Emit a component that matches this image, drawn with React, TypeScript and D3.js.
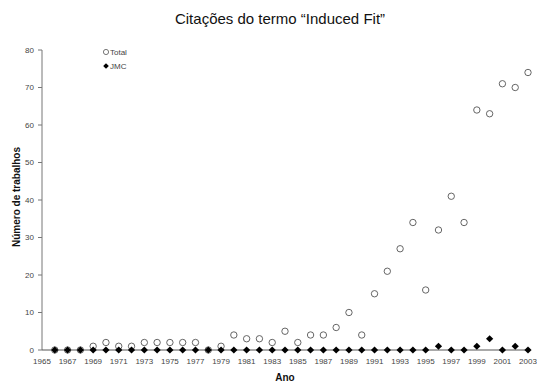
import React from 'react';
import * as d3 from 'd3';

const years = d3.range(1966, 2004);
const totalValues = [0, 0, 0, 1, 2, 1, 1, 2, 2, 2, 2, 2, 0, 1, 4, 3, 3, 2, 5, 2, 4, 4, 6, 10, 4, 15, 21, 27, 34, 16, 32, 41, 34, 64, 63, 71, 70, 74];
const jmcValues = [0, 0, 0, 0, 0, 0, 0, 0, 0, 0, 0, 0, 0, 0, 0, 0, 0, 0, 0, 0, 0, 0, 0, 0, 0, 0, 0, 0, 0, 0, 1, 0, 0, 1, 3, 0, 1, 0];
const xTickYears = d3.range(1965, 2004, 2);
const yTicks = [0, 10, 20, 30, 40, 50, 60, 70, 80];

const App = () => {
    const width = 537;
    const height = 382;
    const margin = {left: 42, right: 9, top: 50, bottom: 32};
    const font = 'Arial, "Liberation Sans", sans-serif';

    const x = d3.scaleLinear().domain([1965, 2003]).range([margin.left, width - margin.right]);
    const y = d3.scaleLinear().domain([0, 80]).range([height - margin.bottom, margin.top]);
    // losango: quadrado girado 45 graus
    const diamond = d3.symbol().type(d3.symbolSquare).size(26);

    return (
        <svg width={width} height={height} style={{position: 'absolute', left: 0, top: 0, background: '#fff'}}>
            <text x={280} y={24} textAnchor="middle" fontFamily={font} fontSize={15} fill="#111">
                Citações do termo “Induced Fit”
            </text>

            {/* eixo Y */}
            <line x1={x(1965)} x2={x(1965)} y1={y(80)} y2={y(0)} stroke="#777"/>
            {yTicks.map(t => (
                <g key={t}>
                    <line x1={x(1965) - 4} x2={x(1965)} y1={y(t)} y2={y(t)} stroke="#777"/>
                    <text x={x(1965) - 8} y={y(t)} dy="0.35em" textAnchor="end"
                          fontFamily={font} fontSize={8} fill="#444">{t}</text>
                </g>
            ))}

            {/* eixo X */}
            <line x1={x(1965)} x2={x(2003)} y1={y(0)} y2={y(0)} stroke="#555"/>
            {xTickYears.map(t => (
                <text key={t} x={x(t)} y={y(0) + 14} textAnchor="middle"
                      fontFamily={font} fontSize={8} fill="#444">{t}</text>
            ))}

            <text x={285} y={381} textAnchor="middle" fontFamily={font} fontSize={10}
                  fontWeight="bold" fill="#111">Ano</text>
            <text transform={`translate(20,${y(40) - 3}) rotate(-90)`} textAnchor="middle"
                  fontFamily={font} fontSize={10} fontWeight="bold" fill="#111">Número de trabalhos</text>

            {years.map((yr, i) => (
                <circle key={'t' + yr} cx={x(yr)} cy={y(totalValues[i])} r={3.2}
                        fill="#fff" stroke="#555" strokeWidth={0.9}/>
            ))}
            {years.map((yr, i) => (
                <path key={'j' + yr} d={diamond()}
                      transform={`translate(${x(yr)},${y(jmcValues[i])}) rotate(45)`} fill="#000"/>
            ))}

            {/* legenda */}
            <circle cx={106} cy={52} r={2.6} fill="#fff" stroke="#555" strokeWidth={0.8}/>
            <text x={110} y={52} dy="0.35em" fontFamily={font} fontSize={8} fill="#444">Total</text>
            <path d={d3.symbol().type(d3.symbolSquare).size(16)()} transform="translate(106,66) rotate(45)" fill="#000"/>
            <text x={110} y={66} dy="0.35em" fontFamily={font} fontSize={8} fill="#444">JMC</text>
        </svg>
    );
};

export default App;
